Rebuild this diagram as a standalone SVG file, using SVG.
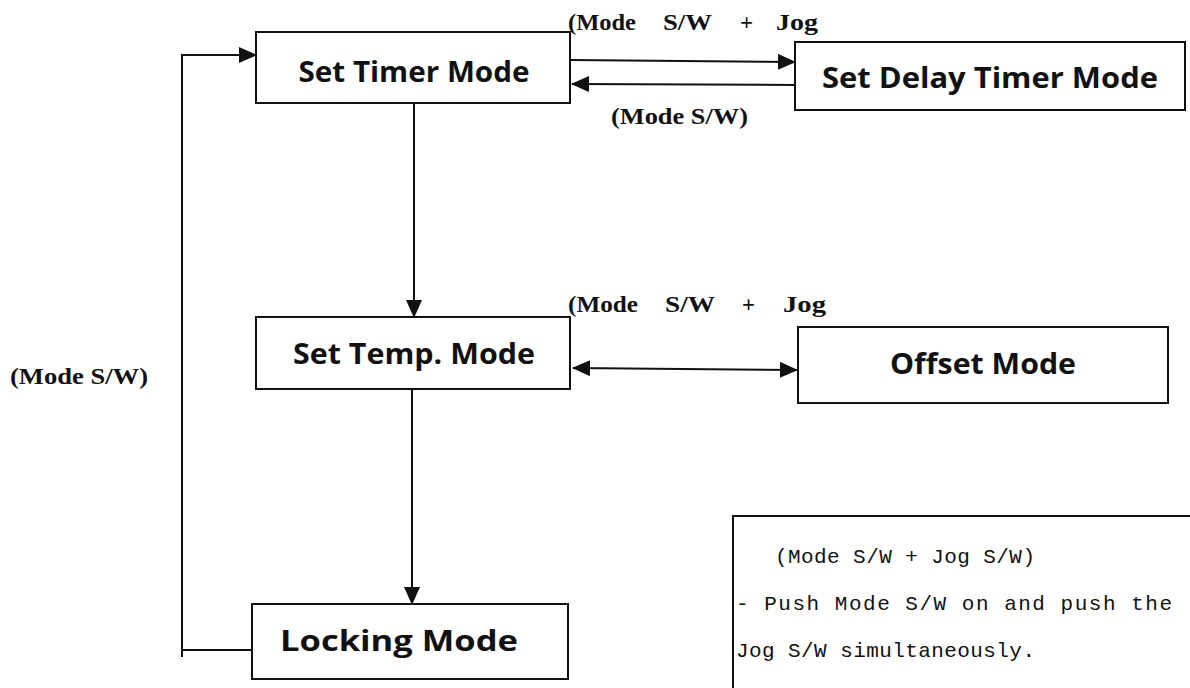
<svg xmlns="http://www.w3.org/2000/svg" width="1190" height="688" viewBox="0 0 1190 688">
<style>
.box{fill:#fff;stroke:#111;stroke-width:2}
.nt{font-family:"Open Sans","Noto Sans",sans-serif;font-weight:bold;font-size:28px;fill:#111;text-anchor:middle}
.lb{font-family:"Liberation Serif","DejaVu Serif",serif;font-weight:bold;font-size:23px;fill:#111}
.nb{font-family:"Liberation Mono","DejaVu Sans Mono",monospace;font-size:21px;fill:#111}
.ln{fill:none;stroke:#111;stroke-width:2}
</style>
<defs>
<marker id="ah" markerWidth="18" markerHeight="16" refX="17" refY="8" orient="auto" markerUnits="userSpaceOnUse" viewBox="0 0 18 16">
<path d="M0,0 L18,8 L0,16 Z" fill="#111"/>
</marker>
<marker id="ahs" markerWidth="18" markerHeight="16" refX="1" refY="8" orient="auto" markerUnits="userSpaceOnUse" viewBox="0 0 18 16">
<path d="M18,0 L0,8 L18,16 Z" fill="#111"/>
</marker>
</defs>
<rect width="1190" height="688" fill="#fff"/>
<g id="connectors">
<line class="ln" x1="571" y1="60" x2="795" y2="62" marker-end="url(#ah)"/>
<line class="ln" x1="795" y1="85" x2="572" y2="84" marker-end="url(#ah)"/>
<line class="ln" x1="414" y1="103" x2="414" y2="317" marker-end="url(#ah)"/>
<line class="ln" x1="412" y1="389" x2="412" y2="604" marker-end="url(#ah)"/>
<line class="ln" x1="573" y1="368" x2="797" y2="370" marker-start="url(#ahs)" marker-end="url(#ah)"/>
<polyline class="ln" points="252,650 182,650"/>
<line class="ln" x1="182" y1="657" x2="182" y2="55"/>
<line class="ln" x1="181" y1="55" x2="256" y2="55" marker-end="url(#ah)"/>
<text class="lb" y="30"><tspan x="568" textLength="68" lengthAdjust="spacingAndGlyphs">(Mode</tspan><tspan x="663" textLength="49" lengthAdjust="spacingAndGlyphs">S/W</tspan><tspan x="740">+</tspan><tspan x="776" textLength="42" lengthAdjust="spacingAndGlyphs">Jog</tspan></text>
<text class="lb" x="611" y="124" textLength="137" lengthAdjust="spacingAndGlyphs">(Mode S/W)</text>
<text class="lb" y="312"><tspan x="568" textLength="70" lengthAdjust="spacingAndGlyphs">(Mode</tspan><tspan x="665" textLength="50" lengthAdjust="spacingAndGlyphs">S/W</tspan><tspan x="742">+</tspan><tspan x="783" textLength="43" lengthAdjust="spacingAndGlyphs">Jog</tspan></text>
<text class="lb" x="10" y="384" textLength="138" lengthAdjust="spacingAndGlyphs">(Mode S/W)</text>
</g>
<g id="set-timer">
<rect class="box" x="256" y="32" width="314" height="71"/>
<text class="nt" x="414" y="82" textLength="231" lengthAdjust="spacingAndGlyphs">Set Timer Mode</text>
</g>
<g id="set-delay-timer">
<rect class="box" x="795" y="42" width="390" height="68"/>
<text class="nt" x="990" y="88" textLength="336" lengthAdjust="spacingAndGlyphs">Set Delay Timer Mode</text>
</g>
<g id="set-temp">
<rect class="box" x="256" y="317" width="314" height="72"/>
<text class="nt" x="414" y="364" textLength="242" lengthAdjust="spacingAndGlyphs">Set Temp. Mode</text>
</g>
<g id="offset">
<rect class="box" x="798" y="327" width="370" height="76"/>
<text class="nt" x="983" y="374" textLength="186" lengthAdjust="spacingAndGlyphs">Offset Mode</text>
</g>
<g id="locking">
<rect class="box" x="252" y="604" width="316" height="75"/>
<text class="nt" x="399" y="651" textLength="238" lengthAdjust="spacingAndGlyphs">Locking Mode</text>
</g>
<g id="note">
<rect class="box" x="733" y="516" width="470" height="185"/>
<text class="nb" x="775" y="563" textLength="260" lengthAdjust="spacing">(Mode S/W + Jog S/W)</text>
<text class="nb" x="736" y="610" textLength="436" lengthAdjust="spacing">- Push Mode S/W on and push the</text>
<text class="nb" x="736" y="657" textLength="299" lengthAdjust="spacing">Jog S/W simultaneously.</text>
</g>
</svg>
